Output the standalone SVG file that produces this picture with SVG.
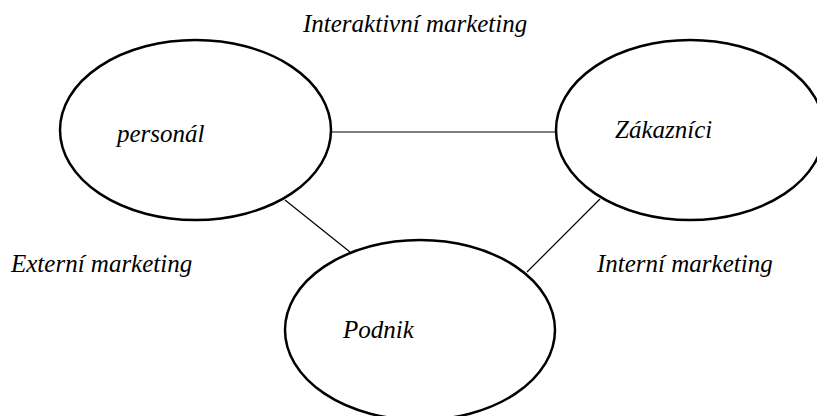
<svg xmlns="http://www.w3.org/2000/svg" width="817" height="416" viewBox="0 0 817 416">
<style>
.node{fill:#fff;stroke:#000;stroke-width:2.5}
.edge{stroke:#000;stroke-width:1.2;fill:none}
text{font-family:"Liberation Serif","Times New Roman",serif;font-style:italic;font-size:25px;fill:#000}
</style>
<rect width="817" height="416" fill="#fff"/>
<g id="connectors">
<line class="edge" x1="331" y1="132" x2="556" y2="132"/>
<line class="edge" x1="285" y1="200" x2="350" y2="252"/>
<line class="edge" x1="600" y1="199" x2="527" y2="272"/>
</g>
<g id="personal">
<ellipse class="node" cx="195.5" cy="130" rx="135.5" ry="90"/>
<text x="117" y="142">personál</text>
</g>
<g id="zakaznici">
<ellipse class="node" cx="690" cy="130" rx="134" ry="90"/>
<text x="615" y="138">Zákazníci</text>
</g>
<g id="podnik">
<ellipse class="node" cx="420" cy="330" rx="135" ry="90"/>
<text x="343" y="338">Podnik</text>
</g>
<g id="labels">
<text x="303" y="32">Interaktivní marketing</text>
<text x="11" y="272">Externí marketing</text>
<text x="597" y="272">Interní marketing</text>
</g>
</svg>
